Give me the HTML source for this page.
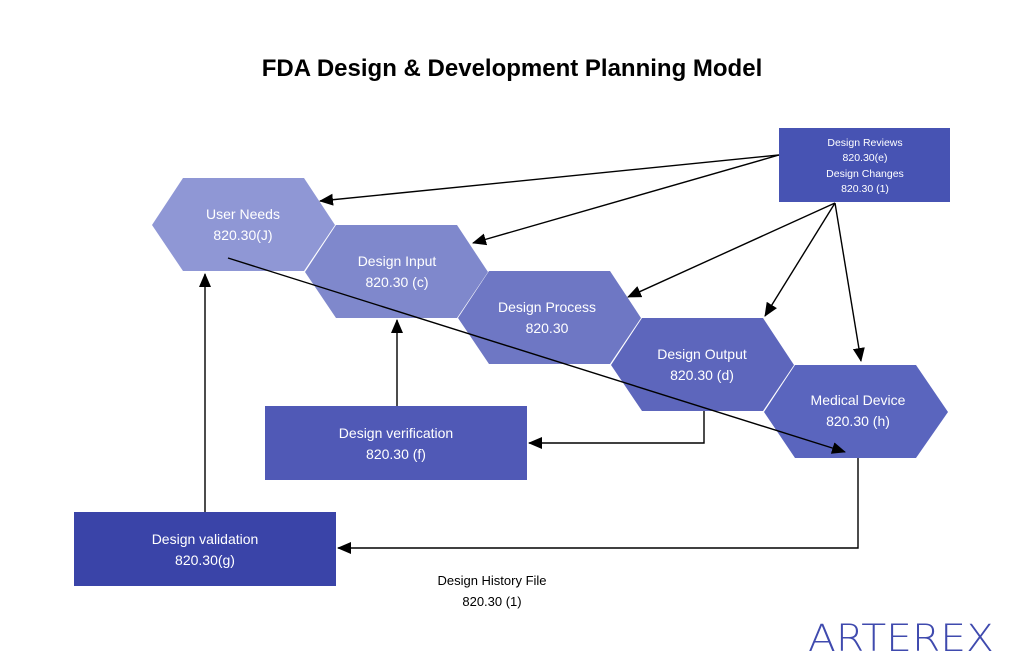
<!DOCTYPE html>
<html><head><style>
html,body{margin:0;padding:0;background:#fff;}
svg{display:block;font-family:"Liberation Sans",sans-serif;}
</style></head><body>
<svg width="1024" height="668" viewBox="0 0 1024 668" xmlns="http://www.w3.org/2000/svg">
<defs>
<marker id="a" markerWidth="14" markerHeight="12" refX="13" refY="6" orient="auto" markerUnits="userSpaceOnUse">
<path d="M0,0 L14,6 L0,12 z" fill="#000"/></marker>
</defs>
<rect width="1024" height="668" fill="#fff"/>
<text x="512" y="76" text-anchor="middle" font-size="24" font-weight="bold" fill="#000">FDA Design &amp; Development Planning Model</text>

<polygon points="152,225 183,178 304,178 335,225 304,271 183,271" fill="#8f97d5"/>
<polygon points="305,272 336,225 457,225 488,272 457,318 336,318" fill="#7f88cc"/>
<polygon points="458,318 489,271 610,271 641,318 610,364 489,364" fill="#6e77c4"/>
<polygon points="611,365 642,318 763,318 794,365 763,411 642,411" fill="#5d66bc"/>
<polygon points="764,412 795,365 916,365 948,412 916,458 795,458" fill="#5a65be"/>

<g fill="#fff" text-anchor="middle" font-size="14">
<text x="243" y="219">User Needs</text><text x="243" y="240">820.30(J)</text>
<text x="397" y="266">Design Input</text><text x="397" y="287">820.30 (c)</text>
<text x="547" y="312">Design Process</text><text x="547" y="333">820.30</text>
<text x="702" y="359">Design Output</text><text x="702" y="380">820.30 (d)</text>
<text x="858" y="405">Medical Device</text><text x="858" y="426">820.30 (h)</text>
</g>

<rect x="779" y="128" width="171" height="74" fill="#4753b3"/>
<g fill="#fff" text-anchor="middle" font-size="10.5">
<text x="865" y="146">Design Reviews</text><text x="865" y="161">820.30(e)</text>
<text x="865" y="177">Design Changes</text><text x="865" y="192">820.30 (1)</text>
</g>
<rect x="265" y="406" width="262" height="74" fill="#5059b6"/>
<text x="396" y="438" text-anchor="middle" font-size="14" fill="#fff">Design verification</text>
<text x="396" y="459" text-anchor="middle" font-size="14" fill="#fff">820.30 (f)</text>
<rect x="74" y="512" width="262" height="74" fill="#3a44a8"/>
<text x="205" y="544" text-anchor="middle" font-size="14" fill="#fff">Design validation</text>
<text x="205" y="565" text-anchor="middle" font-size="14" fill="#fff">820.30(g)</text>

<g stroke="#000" stroke-width="1.4" fill="none" marker-end="url(#a)">
<line x1="779" y1="155" x2="320" y2="201"/>
<line x1="779" y1="155" x2="473" y2="243"/>
<line x1="835" y1="203" x2="628" y2="297"/>
<line x1="835" y1="203" x2="765" y2="316"/>
<line x1="835" y1="203" x2="861" y2="361"/>
<line x1="228" y1="258" x2="845" y2="452"/>
<polyline points="704,411 704,443 529,443"/>
<polyline points="858,458 858,548 338,548"/>
<line x1="397" y1="406" x2="397" y2="320"/>
<line x1="205" y1="512" x2="205" y2="274"/>
</g>

<text x="492" y="585" text-anchor="middle" font-size="13" fill="#000">Design History File</text>
<text x="492" y="606" text-anchor="middle" font-size="13" fill="#000">820.30 (1)</text>

<text x="808" y="651" font-family="DejaVu Sans, Liberation Sans, sans-serif" font-weight="200" font-size="37" fill="#3f4aae" textLength="186" lengthAdjust="spacingAndGlyphs">ARTEREX</text>
</svg>
</body></html>
